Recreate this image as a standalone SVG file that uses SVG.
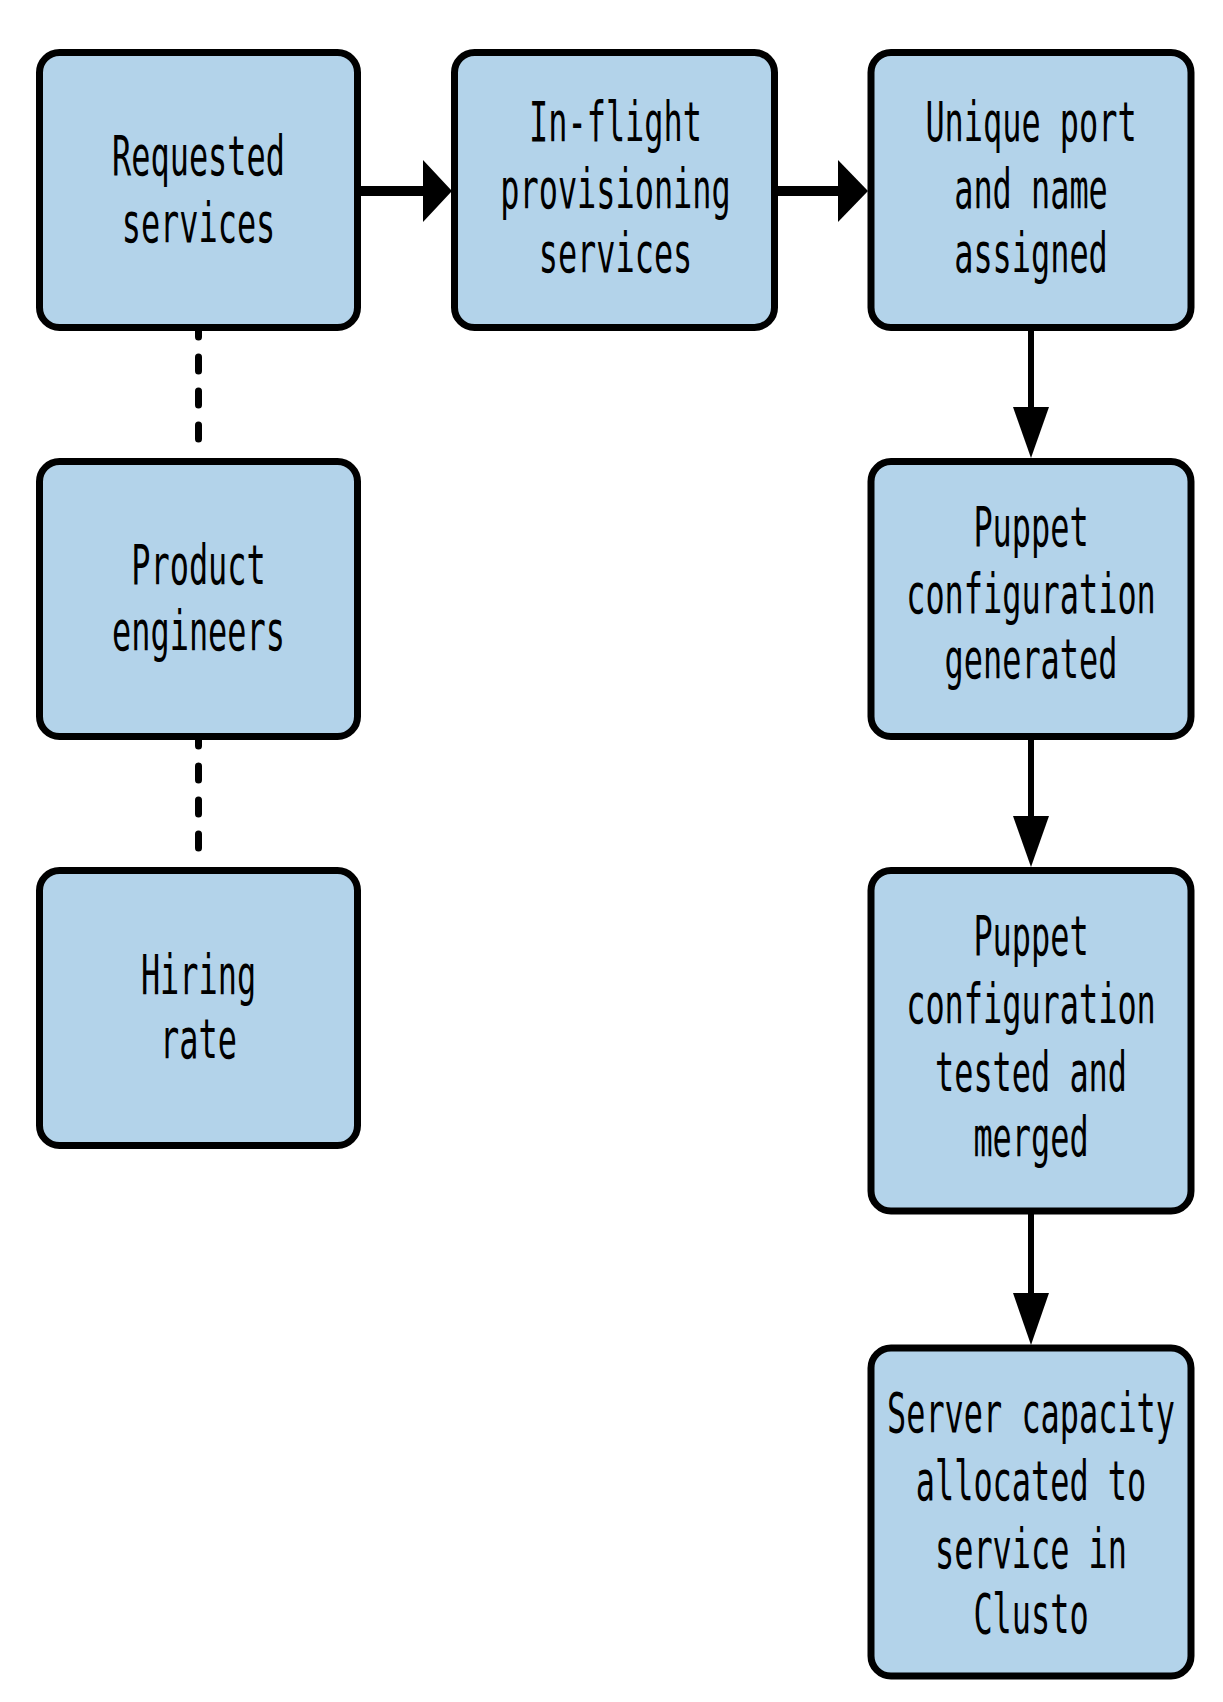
<svg xmlns="http://www.w3.org/2000/svg" width="1223" height="1702" viewBox="0 0 1223 1702">
<style>
.box{fill:#b3d3ea;stroke:#000;stroke-width:7}
.lbl{font-family:"DejaVu Sans Mono","Liberation Mono",monospace;font-size:55px;fill:#000;text-anchor:middle}
.dot{stroke:#000;stroke-width:7;stroke-linecap:round;stroke-dasharray:14 20;stroke-dashoffset:8;fill:none}
.hl{stroke:#000;stroke-width:10;fill:none}
.vl{stroke:#000;stroke-width:6;fill:none}
.head{fill:#000}
</style>
<rect width="1223" height="1702" fill="#fff"/>
<g id="connectors">
<line class="dot" x1="198.5" y1="331" x2="198.5" y2="458"/>
<line class="dot" x1="198.5" y1="740" x2="198.5" y2="867"/>
<line class="hl" x1="361" y1="191" x2="426" y2="191"/>
<polygon class="head" points="423,160 452,191 423,222"/>
<line class="hl" x1="778" y1="191" x2="841" y2="191"/>
<polygon class="head" points="838,160 868,191 838,222"/>
<line class="vl" x1="1031" y1="331" x2="1031" y2="410"/>
<polygon class="head" points="1013,407 1049,407 1031,458"/>
<line class="vl" x1="1031" y1="740" x2="1031" y2="819"/>
<polygon class="head" points="1013,816 1049,816 1031,867"/>
<line class="vl" x1="1031" y1="1214" x2="1031" y2="1296"/>
<polygon class="head" points="1013,1293 1049,1293 1031,1345"/>
</g>
<g id="requested">
<rect class="box" x="39.5" y="52.5" width="318" height="275" rx="20"/>
<text class="lbl" transform="translate(198.5,0) scale(0.58,1)"><tspan x="0" y="175">Requested</tspan><tspan x="0" y="242">services</tspan></text>
</g>
<g id="inflight">
<rect class="box" x="454.5" y="52.5" width="320" height="275" rx="20"/>
<text class="lbl" transform="translate(615.5,0) scale(0.58,1)"><tspan x="0" y="141">In-flight</tspan><tspan x="0" y="208">provisioning</tspan><tspan x="0" y="272">services</tspan></text>
</g>
<g id="unique">
<rect class="box" x="871" y="52.5" width="320" height="275" rx="20"/>
<text class="lbl" transform="translate(1031,0) scale(0.58,1)"><tspan x="0" y="141">Unique port</tspan><tspan x="0" y="208">and name</tspan><tspan x="0" y="272">assigned</tspan></text>
</g>
<g id="product">
<rect class="box" x="39.5" y="461.5" width="318" height="275" rx="20"/>
<text class="lbl" transform="translate(198.5,0) scale(0.58,1)"><tspan x="0" y="584">Product</tspan><tspan x="0" y="650">engineers</tspan></text>
</g>
<g id="puppetgen">
<rect class="box" x="871" y="461.5" width="320" height="275" rx="20"/>
<text class="lbl" transform="translate(1031,0) scale(0.58,1)"><tspan x="0" y="546">Puppet</tspan><tspan x="0" y="613">configuration</tspan><tspan x="0" y="678">generated</tspan></text>
</g>
<g id="hiring">
<rect class="box" x="39.5" y="870.5" width="318" height="275" rx="20"/>
<text class="lbl" transform="translate(198.5,0) scale(0.58,1)"><tspan x="0" y="994">Hiring</tspan><tspan x="0" y="1058">rate</tspan></text>
</g>
<g id="puppettested">
<rect class="box" x="871" y="870.5" width="320" height="340.5" rx="20"/>
<text class="lbl" transform="translate(1031,0) scale(0.58,1)"><tspan x="0" y="955">Puppet</tspan><tspan x="0" y="1023">configuration</tspan><tspan x="0" y="1091">tested and</tspan><tspan x="0" y="1156">merged</tspan></text>
</g>
<g id="capacity">
<rect class="box" x="871" y="1348" width="320" height="328" rx="20"/>
<text class="lbl" transform="translate(1031,0) scale(0.58,1)"><tspan x="0" y="1432">Server capacity</tspan><tspan x="0" y="1500">allocated to</tspan><tspan x="0" y="1568">service in</tspan><tspan x="0" y="1633">Clusto</tspan></text>
</g>
</svg>
